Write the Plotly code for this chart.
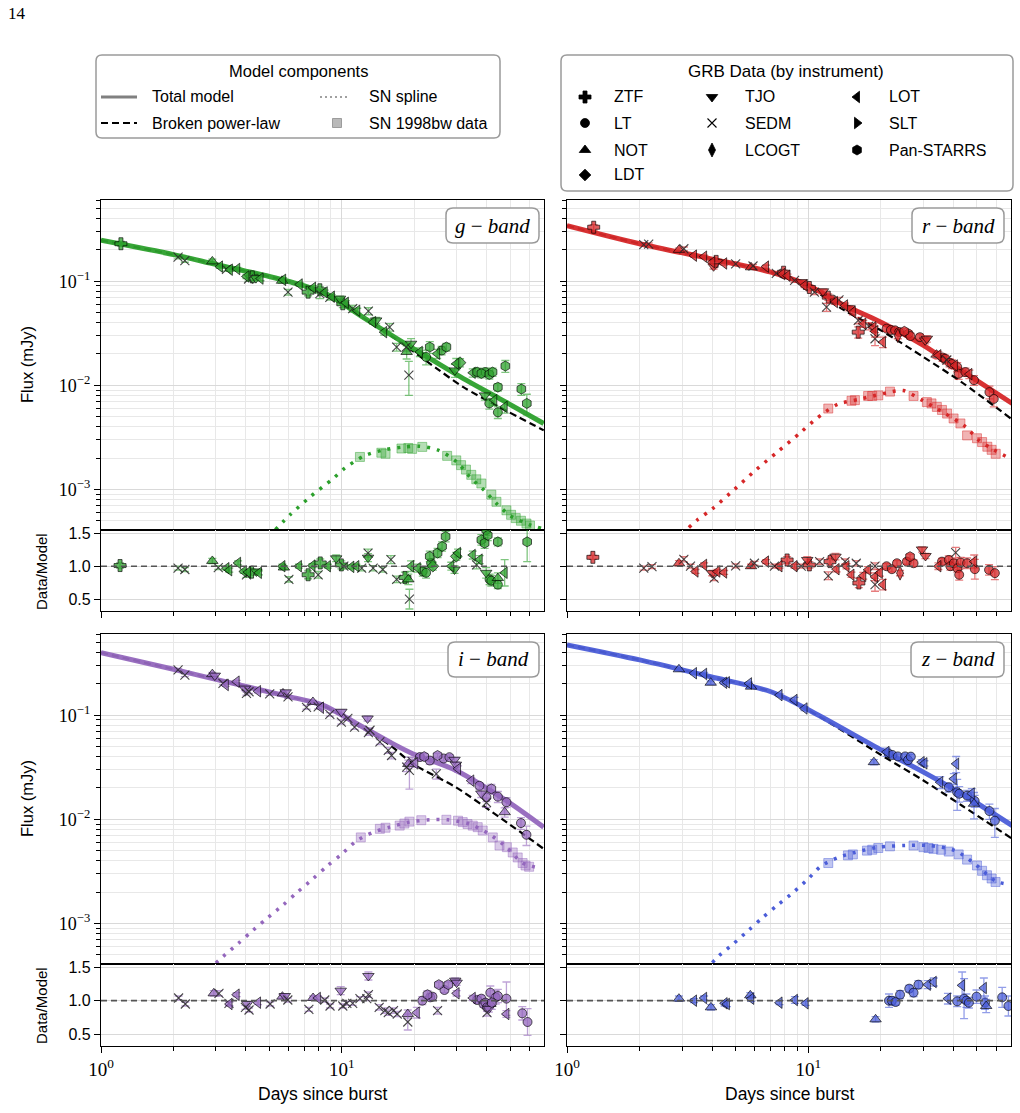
import plotly.graph_objects as go

W, H = 1020, 1113

# ------------------------------------------------------------------ data
# ---- g band
g_model_t = [1.0, 2.0, 3.0, 5.0, 7.0, 9.0, 12.0, 17.0, 25.0, 32.0, 45.0, 69.0]
g_total = [0.247, 0.18, 0.145, 0.111, 0.090, 0.0718, 0.0465, 0.028, 0.0163, 0.0116, 0.0075, 0.0043]
g_bpl = [0.247, 0.18, 0.145, 0.111, 0.090, 0.0712, 0.046, 0.0272, 0.0143, 0.0096, 0.0062, 0.0037]
g_spline_t = [5.3, 6.1, 7.4, 9.2, 10.3, 12.4, 15.0, 18.0, 21.0, 25.0, 30.0, 34.0, 39.0, 44.0, 50.0, 60.0, 68.0]
g_spline_f = [4.1e-4, 5.7e-4, 8.5e-4, 1.27e-3, 1.6e-3, 2.1e-3, 2.4e-3, 2.55e-3, 2.6e-3, 2.4e-3, 1.84e-3,
              1.32e-3, 9.8e-4, 7.3e-4, 5.6e-4, 4.6e-4, 4.2e-4]
g_sn_t = [11.9, 14.6, 15.2, 17.7, 18.9, 19.6, 21.6, 27.4, 29.9, 31.3, 32.8, 34.5, 36.2, 38.0, 41.8, 43.9,
          48.3, 50.5, 52.8, 55.5, 58.5, 60.5]
g_sn_f = [2.05e-3, 2.25e-3, 2.2e-3, 2.47e-3, 2.5e-3, 2.45e-3, 2.56e-3, 2.1e-3, 1.9e-3, 1.71e-3, 1.55e-3,
          1.38e-3, 1.25e-3, 1.14e-3, 8.9e-4, 7.6e-4, 6.3e-4, 5.7e-4, 5.3e-4, 5.0e-4, 4.7e-4, 4.5e-4]
g_flux_points = [
    ("ZTF", 1.21, 0.229, 0.012), ("SEDM", 2.09, 0.170, 0.006), ("SEDM", 2.23, 0.158, 0.006),
    ("NOT", 2.90, 0.155, 0.008), ("LOT", 3.12, 0.138, 0.005), ("SEDM", 3.32, 0.130, 0.005),
    ("LOT", 3.43, 0.129, 0.005), ("LOT", 3.68, 0.131, 0.005), ("LOT", 4.02, 0.111, 0.005),
    ("SEDM", 4.10, 0.105, 0.005), ("ZTF", 4.25, 0.110, 0.008), ("TJO", 4.40, 0.107, 0.005),
    ("LOT", 4.60, 0.106, 0.005), ("NOT", 5.65, 0.101, 0.005), ("LOT", 5.71, 0.103, 0.005),
    ("SEDM", 5.98, 0.0785, 0.005), ("LOT", 6.69, 0.093, 0.004), ("ZTF", 7.25, 0.0785, 0.006),
    ("LOT", 7.60, 0.0864, 0.004), ("ZTF", 8.11, 0.0827, 0.006), ("SEDM", 8.11, 0.0760, 0.008),
    ("LOT", 8.50, 0.078, 0.004), ("SEDM", 8.92, 0.070, 0.004), ("LOT", 9.10, 0.071, 0.003),
    ("TJO", 9.83, 0.068, 0.004), ("ZTF", 10.1, 0.0607, 0.005), ("LOT", 10.4, 0.062, 0.003),
    ("SEDM", 11.1, 0.0544, 0.004), ("LOT", 11.6, 0.052, 0.003), ("SEDM", 12.9, 0.0516, 0.004),
    ("LOT", 13.5, 0.0404, 0.002), ("TJO", 13.9, 0.042, 0.003), ("LOT", 15.0, 0.0324, 0.002),
    ("SEDM", 15.8, 0.0362, 0.003), ("SEDM", 16.9, 0.0233, 0.002), ("SEDM", 18.5, 0.0233, 0.002),
    ("NOT", 18.6, 0.0209, 0.003), ("SEDM", 19.0, 0.0125, 0.0045), ("TJO", 19.4, 0.0251, 0.003),
    ("LOT", 21.1, 0.0209, 0.002), ("LT", 22.4, 0.0187, 0.003), ("PS", 23.2, 0.0233, 0.003),
    ("LOT", 24.9, 0.0201, 0.002), ("LT", 26.0, 0.0216, 0.002), ("PS", 27.2, 0.0233, 0.002),
    ("TJO", 29.5, 0.0139, 0.002), ("LOT", 29.9, 0.0161, 0.002), ("LDT", 31.0, 0.0165, 0.0015),
    ("LOT", 35.0, 0.0132, 0.0012), ("PS", 36.5, 0.0134, 0.0012), ("PS", 38.0, 0.0130, 0.0012),
    ("LT", 39.5, 0.0134, 0.0012), ("PS", 41.0, 0.0127, 0.0012), ("PS", 42.3, 0.0134, 0.0012),
    ("TJO", 39.3, 0.0080, 0.0008), ("LT", 41.0, 0.0067, 0.0008), ("LOT", 43.0, 0.0072, 0.0008),
    ("PS", 44.5, 0.0096, 0.0008), ("LT", 44.5, 0.0055, 0.0007), ("LOT", 47.5, 0.0062, 0.0008),
    ("PS", 47.8, 0.0153, 0.002), ("PS", 55.7, 0.0092, 0.0012), ("PS", 58.7, 0.0067, 0.0015),
]
g_ratio_points = [
    ("ZTF", 1.20, 1.01, 0.04), ("SEDM", 2.09, 0.97, 0.03), ("SEDM", 2.23, 0.95, 0.03),
    ("NOT", 2.90, 1.08, 0.04), ("SEDM", 3.07, 0.98, 0.03), ("LOT", 3.32, 0.97, 0.03),
    ("LOT", 3.41, 0.94, 0.03), ("LOT", 3.71, 1.05, 0.03), ("LOT", 3.92, 0.92, 0.03),
    ("SEDM", 4.02, 0.87, 0.04), ("LOT", 4.08, 0.91, 0.03), ("ZTF", 4.22, 0.91, 0.05),
    ("TJO", 4.42, 0.92, 0.03), ("LOT", 4.53, 0.90, 0.03), ("LOT", 5.67, 1.0, 0.03),
    ("NOT", 5.75, 0.98, 0.03), ("SEDM", 6.03, 0.80, 0.04), ("LOT", 6.64, 1.0, 0.03),
    ("ZTF", 7.25, 0.87, 0.06), ("LOT", 7.56, 1.01, 0.03), ("SEDM", 7.98, 0.87, 0.05),
    ("ZTF", 8.14, 1.05, 0.06), ("LOT", 8.76, 1.0, 0.03), ("TJO", 9.48, 1.12, 0.05),
    ("ZTF", 9.96, 1.02, 0.06), ("SEDM", 10.2, 1.0, 0.04), ("LOT", 10.96, 0.99, 0.03),
    ("LOT", 11.5, 1.0, 0.03), ("SEDM", 12.1, 0.97, 0.04), ("SEDM", 12.86, 1.2, 0.06),
    ("TJO", 12.86, 1.13, 0.06), ("SEDM", 13.5, 0.97, 0.04), ("SEDM", 14.8, 0.95, 0.04),
    ("SEDM", 16.0, 1.1, 0.06), ("SEDM", 16.9, 0.8, 0.05), ("ZTF", 18.3, 0.83, 0.08),
    ("NOT", 18.9, 0.80, 0.08), ("SEDM", 19.1, 0.5, 0.15), ("LOT", 19.4, 1.0, 0.08),
    ("LOT", 20.7, 0.97, 0.06), ("LT", 21.7, 0.92, 0.07), ("LT", 22.4, 0.9, 0.08),
    ("PS", 23.2, 1.15, 0.08), ("LT", 23.5, 1.05, 0.06), ("LDT", 23.9, 1.0, 0.06),
    ("PS", 25.0, 1.2, 0.07), ("PS", 26.1, 1.3, 0.07), ("PS", 27.0, 1.45, 0.08),
    ("LOT", 28.5, 1.0, 0.06), ("TJO", 29.4, 0.95, 0.06), ("LDT", 29.9, 1.15, 0.06),
    ("LOT", 30.4, 1.2, 0.06), ("LOT", 35.0, 1.17, 0.06), ("SEDM", 36.3, 1.02, 0.06),
    ("LOT", 37.4, 1.1, 0.06), ("PS", 38.0, 1.4, 0.08), ("PS", 39.2, 1.35, 0.08),
    ("PS", 39.8, 1.55, 0.08), ("PS", 40.4, 1.47, 0.08), ("TJO", 39.8, 0.9, 0.08),
    ("LT", 41.1, 0.8, 0.08), ("LT", 41.8, 0.78, 0.08), ("PS", 44.5, 1.37, 0.06),
    ("LT", 44.5, 0.72, 0.06), ("NOT", 44.5, 0.82, 0.08), ("LOT", 47.5, 0.9, 0.2),
    ("PS", 58.9, 1.37, 0.3),
]

# ---- r band
r_model_t = [1.0, 2.0, 4.0, 7.0, 10.0, 14.0, 20.0, 30.0, 43.0, 70.0]
r_total = [0.342, 0.229, 0.163, 0.122, 0.091, 0.059, 0.0404, 0.0242, 0.0139, 0.0067]
r_bpl = [0.342, 0.229, 0.163, 0.122, 0.088, 0.053, 0.0337, 0.0187, 0.0108, 0.00469]
r_spline_t = [3.2, 3.47, 4.0, 4.94, 6.07, 7.46, 9.26, 10.7, 11.7, 13.3, 16.1, 17.7, 22.9, 24.8, 29.6, 36.9,
              44.8, 51.0, 57.7, 68.8]
r_spline_f = [4.3e-4, 5.1e-4, 6.5e-4, 1.0e-3, 1.54e-3, 2.3e-3, 3.5e-3, 4.7e-3, 5.5e-3, 6.6e-3, 7.3e-3,
              7.7e-3, 8.8e-3, 8.9e-3, 7.2e-3, 5.35e-3, 4.0e-3, 2.96e-3, 2.46e-3, 1.97e-3]
r_sn_t = [12.1, 15.1, 15.6, 17.7, 18.4, 19.5, 21.8, 27.3, 31.0, 32.4, 34.1, 35.8, 37.6, 40.0, 42.7, 45.5,
          50.0, 52.5, 55.2, 57.5, 59.8]
r_sn_f = [5.98e-3, 7.1e-3, 7.2e-3, 7.9e-3, 7.9e-3, 8.0e-3, 8.7e-3, 7.9e-3, 6.9e-3, 6.7e-3, 6.2e-3, 5.8e-3,
          5.35e-3, 4.8e-3, 4.3e-3, 3.3e-3, 3.1e-3, 2.85e-3, 2.57e-3, 2.4e-3, 2.2e-3]
r_flux_points = [
    ("ZTF", 1.29, 0.33, 0.02), ("SEDM", 2.08, 0.225, 0.006), ("SEDM", 2.18, 0.227, 0.006),
    ("NOT", 2.91, 0.200, 0.008), ("SEDM", 3.05, 0.205, 0.008), ("LOT", 3.36, 0.176, 0.006),
    ("LOT", 3.70, 0.172, 0.006), ("LOT", 4.0, 0.152, 0.006), ("TJO", 4.05, 0.139, 0.008),
    ("ZTF", 4.15, 0.155, 0.01), ("LOT", 4.48, 0.148, 0.005), ("SEDM", 5.0, 0.147, 0.005),
    ("NOT", 5.79, 0.136, 0.005), ("SEDM", 5.9, 0.140, 0.005), ("LOT", 6.68, 0.138, 0.005),
    ("SEDM", 7.37, 0.119, 0.005), ("LOT", 7.8, 0.117, 0.005), ("ZTF", 7.9, 0.122, 0.006),
    ("LOT", 8.2, 0.113, 0.004), ("SEDM", 8.77, 0.1016, 0.004), ("TJO", 9.4, 0.098, 0.004),
    ("LOT", 9.65, 0.091, 0.004), ("ZTF", 10.1, 0.087, 0.005), ("SEDM", 10.6, 0.0785, 0.004),
    ("TJO", 11.5, 0.080, 0.004), ("ZTF", 12.1, 0.0703, 0.005), ("SEDM", 11.9, 0.0563, 0.005),
    ("LOT", 12.9, 0.063, 0.003), ("SEDM", 13.4, 0.066, 0.004), ("LOT", 14.2, 0.0585, 0.003),
    ("TJO", 14.8, 0.055, 0.003), ("LOT", 15.3, 0.0505, 0.003), ("SEDM", 16.1, 0.042, 0.003),
    ("ZTF", 16.1, 0.0324, 0.004), ("LOT", 16.9, 0.039, 0.003), ("SEDM", 17.8, 0.037, 0.003),
    ("LOT", 18.6, 0.036, 0.003), ("SEDM", 18.9, 0.028, 0.004), ("LOT", 18.9, 0.033, 0.004),
    ("LOT", 20.4, 0.026, 0.003), ("LT", 21.1, 0.035, 0.002), ("LT", 22.0, 0.034, 0.002),
    ("LT", 22.9, 0.0337, 0.002), ("LCOGT", 23.5, 0.030, 0.002), ("LT", 23.8, 0.0325, 0.002),
    ("PS", 25.0, 0.033, 0.002), ("LT", 26.0, 0.0313, 0.002), ("LT", 26.5, 0.0297, 0.002),
    ("LT", 29.0, 0.029, 0.002), ("TJO", 30.5, 0.027, 0.002), ("TJO", 31.0, 0.028, 0.002),
    ("NOT", 34.0, 0.0197, 0.0015), ("LOT", 34.6, 0.0194, 0.0015), ("LT", 36.0, 0.0185, 0.0015),
    ("LT", 36.9, 0.018, 0.0015), ("SEDM", 37.5, 0.0175, 0.0015), ("LT", 38.5, 0.0165, 0.0015),
    ("LT", 39.4, 0.016, 0.0015), ("LOT", 40.5, 0.0155, 0.0012), ("LT", 41.4, 0.015, 0.0015),
    ("LT", 42.0, 0.0129, 0.0015), ("LT", 44.8, 0.0134, 0.0012), ("LOT", 46.5, 0.0128, 0.0012),
    ("LT", 48.6, 0.0112, 0.0012), ("LT", 56.3, 0.0086, 0.0012), ("LT", 58.7, 0.0074, 0.0012),
]
r_ratio_points = [
    ("ZTF", 1.28, 1.135, 0.03), ("SEDM", 2.08, 0.97, 0.03), ("SEDM", 2.25, 0.995, 0.03),
    ("NOT", 2.91, 1.045, 0.04), ("SEDM", 3.05, 1.105, 0.04), ("SEDM", 3.25, 1.0, 0.03),
    ("LOT", 3.41, 0.92, 0.03), ("LOT", 3.70, 1.02, 0.03), ("TJO", 4.0, 0.895, 0.04),
    ("SEDM", 4.07, 0.82, 0.04), ("LOT", 4.2, 0.92, 0.03), ("LOT", 4.48, 0.905, 0.03),
    ("SEDM", 5.0, 1.005, 0.03), ("NOT", 5.79, 1.0, 0.03), ("SEDM", 5.98, 1.045, 0.03),
    ("LOT", 6.68, 1.07, 0.03), ("SEDM", 7.24, 1.0, 0.03), ("LOT", 7.6, 1.0, 0.03),
    ("ZTF", 8.17, 1.095, 0.05), ("LOT", 8.77, 1.0, 0.03), ("SEDM", 9.35, 1.0, 0.03),
    ("TJO", 9.9, 1.095, 0.05), ("ZTF", 10.1, 1.02, 0.05), ("SEDM", 11.14, 1.07, 0.04),
    ("SEDM", 12.1, 0.855, 0.06), ("ZTF", 12.3, 1.07, 0.05), ("TJO", 12.96, 1.145, 0.05),
    ("LOT", 13.1, 0.955, 0.04), ("SEDM", 14.2, 1.07, 0.04), ("LOT", 14.4, 1.0, 0.04),
    ("LOT", 15.1, 0.87, 0.04), ("SEDM", 15.8, 1.045, 0.04), ("ZTF", 16.2, 0.745, 0.07),
    ("LOT", 16.9, 0.855, 0.05), ("LOT", 17.7, 0.945, 0.05), ("SEDM", 18.9, 1.0, 0.05),
    ("LOT", 18.9, 0.84, 0.06), ("SEDM", 18.9, 0.72, 0.1), ("LOT", 19.8, 0.9, 0.05),
    ("LOT", 20.4, 0.72, 0.08), ("LT", 21.1, 1.0, 0.04), ("LT", 22.2, 0.955, 0.04),
    ("LT", 23.3, 1.045, 0.04), ("LCOGT", 24.0, 0.895, 0.04), ("LT", 25.6, 1.07, 0.04),
    ("PS", 26.4, 1.145, 0.04), ("LT", 27.3, 1.045, 0.05), ("TJO", 29.6, 1.255, 0.04),
    ("TJO", 30.6, 1.155, 0.04), ("LOT", 34.6, 1.0, 0.05), ("LT", 35.8, 1.07, 0.05),
    ("LT", 38.2, 1.095, 0.06), ("LT", 38.8, 1.0, 0.06), ("LT", 40.1, 1.045, 0.06),
    ("SEDM", 40.8, 1.205, 0.08), ("LT", 41.5, 0.97, 0.06), ("LT", 42.2, 0.87, 0.08),
    ("LT", 42.8, 1.055, 0.08), ("LT", 45.5, 1.045, 0.08), ("LOT", 48.7, 1.07, 0.1),
    ("LT", 49.0, 0.955, 0.15), ("LT", 56.1, 0.945, 0.08), ("LT", 59.3, 0.895, 0.1),
]

# ---- i band
i_model_t = [1.0, 2.0, 3.0, 6.1, 8.35, 11.5, 15.8, 19.7, 29.8, 48.3, 69.0]
i_total = [0.399, 0.276, 0.221, 0.150, 0.125, 0.0832, 0.0553, 0.0427, 0.0295, 0.0151, 0.0084]
i_bpl = [0.399, 0.276, 0.221, 0.150, 0.124, 0.081, 0.052, 0.0342, 0.0203, 0.0094, 0.0052]
i_spline_t = [3.0, 3.21, 3.71, 4.28, 4.94, 5.7, 6.5, 7.56, 8.7, 9.96, 11.5, 13.5, 15.8, 19.1, 23.2, 27.6,
              34.0, 41.0, 48.3, 56.4, 66.3]
i_spline_f = [4.16e-4, 4.8e-4, 6.4e-4, 8.6e-4, 1.14e-3, 1.5e-3, 1.97e-3, 2.66e-3, 3.56e-3, 4.6e-3, 6.2e-3,
              7.5e-3, 8.4e-3, 9.4e-3, 9.9e-3, 9.9e-3, 9.0e-3, 7.2e-3, 5.4e-3, 3.8e-3, 3.4e-3]
i_sn_t = [12.0, 14.4, 15.2, 17.4, 18.2, 19.1, 21.4, 27.2, 30.4, 31.8, 33.3, 35.0, 36.7, 38.5, 42.4, 45.2,
          48.5, 51.3, 53.8, 56.4, 58.0, 60.0]
i_sn_f = [6.7e-3, 8.1e-3, 8.3e-3, 8.7e-3, 9.1e-3, 9.5e-3, 9.8e-3, 9.9e-3, 9.7e-3, 9.4e-3, 9.0e-3, 8.7e-3,
          8.4e-3, 7.8e-3, 6.7e-3, 5.6e-3, 5.4e-3, 4.8e-3, 4.3e-3, 3.8e-3, 3.6e-3, 3.5e-3]
i_flux_points = [
    ("SEDM", 2.09, 0.272, 0.008), ("SEDM", 2.23, 0.243, 0.008), ("NOT", 2.90, 0.248, 0.01),
    ("TJO", 2.97, 0.240, 0.01), ("SEDM", 3.21, 0.202, 0.006), ("LOT", 3.30, 0.195, 0.006),
    ("LOT", 3.66, 0.210, 0.006), ("TJO", 3.96, 0.180, 0.008), ("SEDM", 4.02, 0.162, 0.006),
    ("SEDM", 4.12, 0.168, 0.006), ("LOT", 4.49, 0.170, 0.006), ("SEDM", 5.02, 0.160, 0.005),
    ("NOT", 5.70, 0.162, 0.006), ("TJO", 5.85, 0.166, 0.006), ("SEDM", 5.98, 0.150, 0.005),
    ("SEDM", 7.14, 0.119, 0.005), ("NOT", 7.59, 0.134, 0.005), ("SEDM", 7.98, 0.120, 0.005),
    ("LOT", 8.2, 0.118, 0.004), ("SEDM", 8.92, 0.102, 0.004), ("TJO", 9.96, 0.108, 0.005),
    ("SEDM", 9.96, 0.086, 0.004), ("SEDM", 10.6, 0.093, 0.004), ("SEDM", 11.3, 0.077, 0.004),
    ("TJO", 12.8, 0.093, 0.005), ("SEDM", 13.1, 0.0717, 0.004), ("SEDM", 12.9, 0.068, 0.004),
    ("SEDM", 14.4, 0.0553, 0.003), ("SEDM", 15.6, 0.046, 0.003), ("SEDM", 16.1, 0.041, 0.003),
    ("SEDM", 18.6, 0.0317, 0.003), ("NOT", 18.9, 0.034, 0.003), ("SEDM", 19.1, 0.0295, 0.01),
    ("SEDM", 19.6, 0.036, 0.003), ("LOT", 20.2, 0.0345, 0.003), ("LT", 21.1, 0.0396, 0.003),
    ("PS", 22.0, 0.040, 0.003), ("LT", 23.2, 0.0367, 0.003), ("PS", 25.0, 0.041, 0.002),
    ("LT", 26.5, 0.0384, 0.002), ("LT", 28.0, 0.0395, 0.002), ("TJO", 29.4, 0.0373, 0.002),
    ("TJO", 29.8, 0.0335, 0.002), ("LOT", 30.4, 0.0306, 0.002), ("SEDM", 24.7, 0.0273, 0.003),
    ("LOT", 34.5, 0.0235, 0.0015), ("LT", 37.3, 0.021, 0.0015), ("TJO", 38.0, 0.0177, 0.0015),
    ("LT", 39.9, 0.0163, 0.0015), ("PS", 41.8, 0.0196, 0.002), ("SEDM", 39.9, 0.0145, 0.0015),
    ("LT", 44.5, 0.0165, 0.002), ("LT", 48.3, 0.0146, 0.0015), ("NOT", 47.5, 0.0117, 0.0012),
    ("LT", 55.5, 0.0092, 0.0012), ("LT", 58.5, 0.0071, 0.0015),
]
i_ratio_points = [
    ("SEDM", 2.1, 1.04, 0.03), ("SEDM", 2.24, 0.95, 0.03), ("NOT", 2.94, 1.11, 0.04),
    ("SEDM", 3.09, 1.11, 0.04), ("SEDM", 3.40, 0.96, 0.03), ("LOT", 3.42, 0.95, 0.03),
    ("LOT", 3.66, 1.09, 0.03), ("SEDM", 3.98, 0.9, 0.03), ("TJO", 4.05, 0.95, 0.04),
    ("SEDM", 4.12, 0.86, 0.03), ("LOT", 4.49, 0.97, 0.03), ("SEDM", 5.04, 0.95, 0.03),
    ("NOT", 5.67, 1.06, 0.03), ("TJO", 5.8, 1.07, 0.03), ("SEDM", 5.97, 1.01, 0.03),
    ("SEDM", 7.3, 0.87, 0.03), ("NOT", 7.6, 1.04, 0.03), ("LOT", 7.96, 1.04, 0.03),
    ("SEDM", 8.5, 1.01, 0.03), ("SEDM", 8.94, 0.92, 0.03), ("TJO", 9.9, 1.15, 0.06),
    ("SEDM", 10.1, 0.92, 0.03), ("SEDM", 10.5, 0.96, 0.03), ("SEDM", 11.1, 0.96, 0.03),
    ("SEDM", 11.9, 1.03, 0.03), ("TJO", 12.9, 1.37, 0.06), ("SEDM", 12.9, 1.09, 0.04),
    ("SEDM", 12.7, 1.03, 0.03), ("SEDM", 14.3, 0.9, 0.04), ("SEDM", 15.1, 0.85, 0.04),
    ("SEDM", 15.6, 0.82, 0.04), ("SEDM", 16.4, 0.85, 0.04), ("SEDM", 17.0, 0.8, 0.04),
    ("NOT", 18.8, 0.8, 0.06), ("SEDM", 18.8, 0.68, 0.12), ("LOT", 20.5, 0.82, 0.08),
    ("LT", 21.6, 1.0, 0.06), ("PS", 22.7, 1.09, 0.06), ("LT", 23.3, 1.05, 0.05),
    ("LT", 23.8, 1.06, 0.05), ("SEDM", 25.0, 0.85, 0.05), ("PS", 25.3, 1.24, 0.04),
    ("LT", 26.7, 1.16, 0.04), ("PS", 27.7, 1.24, 0.04), ("TJO", 29.6, 1.3, 0.04),
    ("TJO", 30.0, 1.27, 0.04), ("LOT", 30.0, 1.11, 0.04), ("LOT", 35.0, 1.04, 0.04),
    ("LT", 36.5, 1.01, 0.05), ("LT", 38.0, 1.03, 0.05), ("LT", 38.8, 0.95, 0.05),
    ("LT", 39.5, 0.97, 0.05), ("LT", 40.1, 0.9, 0.06), ("TJO", 40.8, 0.88, 0.05),
    ("SEDM", 40.1, 0.82, 0.05), ("LT", 41.4, 1.12, 0.1), ("PS", 42.0, 0.97, 0.1),
    ("NOT", 41.4, 0.95, 0.06), ("LT", 43.6, 1.05, 0.1), ("LT", 44.5, 1.07, 0.1),
    ("LT", 48.3, 1.03, 0.25), ("LOT", 48.3, 0.8, 0.05), ("LT", 56.2, 0.81, 0.1),
    ("LT", 59.1, 0.68, 0.2),
]

# ---- z band
z_model_t = [1.0, 2.0, 3.94, 7.0, 10.0, 20.2, 30.0, 43.4, 70.0]
z_total = [0.474, 0.34, 0.234, 0.168, 0.113, 0.046, 0.0284, 0.0175, 0.0087]
z_bpl = [0.474, 0.34, 0.234, 0.168, 0.112, 0.041, 0.0236, 0.0135, 0.0065]
z_spline_t = [4.0, 4.27, 4.9, 5.66, 6.47, 7.46, 8.63, 9.96, 11.3, 13.3, 15.6, 19.5, 25.3, 31.5, 40.6, 49.2,
              59.7, 65.6]
z_spline_f = [4.2e-4, 4.9e-4, 6.4e-4, 8.6e-4, 1.14e-3, 1.5e-3, 1.97e-3, 2.66e-3, 3.56e-3, 4.3e-3, 4.8e-3,
              5.4e-3, 5.6e-3, 5.6e-3, 5.0e-3, 3.7e-3, 2.55e-3, 2.4e-3]
z_sn_t = [12.1, 14.6, 15.3, 17.5, 18.4, 19.5, 21.8, 27.3, 30.0, 31.5, 33.0, 35.5, 38.2, 42.0, 45.5, 50.0,
          52.5, 55.0, 57.5, 59.7]
z_sn_f = [3.8e-3, 4.5e-3, 4.6e-3, 5.0e-3, 5.1e-3, 5.3e-3, 5.5e-3, 5.6e-3, 5.4e-3, 5.3e-3, 5.2e-3, 5.1e-3,
          4.9e-3, 4.6e-3, 4.1e-3, 3.6e-3, 3.2e-3, 2.9e-3, 2.7e-3, 2.5e-3]
z_flux_points = [
    ("NOT", 2.91, 0.276, 0.01), ("LOT", 3.36, 0.253, 0.008), ("LOT", 3.70, 0.249, 0.008),
    ("NOT", 3.94, 0.205, 0.008), ("LOT", 4.48, 0.205, 0.006), ("LOT", 4.60, 0.207, 0.006),
    ("LOT", 5.68, 0.202, 0.006), ("NOT", 5.79, 0.188, 0.006), ("LOT", 7.6, 0.156, 0.005),
    ("LOT", 8.77, 0.14, 0.008), ("LOT", 9.65, 0.116, 0.005), ("NOT", 18.7, 0.0354, 0.002),
    ("LOT", 21.1, 0.0443, 0.004), ("LT", 21.5, 0.043, 0.002), ("LT", 22.3, 0.0415, 0.002),
    ("LT", 23.5, 0.0402, 0.002), ("LT", 25.2, 0.0402, 0.002), ("LT", 25.9, 0.037, 0.002),
    ("LT", 26.6, 0.040, 0.002), ("LOT", 29.5, 0.0354, 0.002), ("LOT", 30.3, 0.0345, 0.002),
    ("LOT", 35.2, 0.0227, 0.003), ("LT", 38.2, 0.0203, 0.002), ("LOT", 40.1, 0.0245, 0.003),
    ("LOT", 41.0, 0.0341, 0.006), ("LT", 41.4, 0.0182, 0.006), ("LT", 42.2, 0.0176, 0.003),
    ("LT", 45.5, 0.0169, 0.002), ("LOT", 47.6, 0.0177, 0.002), ("NOT", 48.6, 0.0141, 0.004),
    ("LT", 48.9, 0.0150, 0.002), ("LT", 56.3, 0.012, 0.002), ("LT", 59.3, 0.0097, 0.003),
]
z_ratio_points = [
    ("NOT", 2.91, 1.03, 0.04), ("LOT", 3.36, 1.0, 0.03), ("LOT", 3.7, 1.04, 0.03),
    ("NOT", 3.95, 0.9, 0.04), ("LOT", 4.5, 0.96, 0.04), ("LOT", 4.6, 0.95, 0.04),
    ("NOT", 5.75, 1.08, 0.04), ("LOT", 5.8, 1.03, 0.04), ("LOT", 7.6, 0.97, 0.03),
    ("LOT", 8.8, 1.01, 0.05), ("LOT", 9.75, 0.96, 0.03), ("NOT", 19.0, 0.72, 0.04),
    ("LT", 21.6, 1.0, 0.1), ("LT", 22.2, 1.0, 0.06), ("LT", 23.0, 0.98, 0.05),
    ("LT", 24.0, 1.09, 0.06), ("LT", 26.2, 1.18, 0.05), ("LT", 27.3, 1.12, 0.06),
    ("LT", 28.6, 1.24, 0.06), ("LOT", 31.3, 1.24, 0.06), ("LOT", 33.1, 1.28, 0.06),
    ("LOT", 37.9, 1.03, 0.08), ("LT", 41.4, 0.99, 0.08), ("LOT", 43.4, 1.23, 0.2),
    ("LT", 44.2, 1.03, 0.3), ("LT", 45.2, 1.0, 0.1), ("LT", 46.3, 0.97, 0.08),
    ("LT", 49.8, 1.06, 0.1), ("LOT", 53.4, 1.19, 0.15), ("LT", 54.0, 0.97, 0.1),
    ("NOT", 54.6, 0.92, 0.1), ("LT", 63.6, 1.05, 0.15), ("LT", 67.5, 0.92, 0.15),
]

band_names = ["g", "r", "i", "z"]
instrument_order = ["ZTF", "LT", "NOT", "LDT", "TJO", "SEDM", "LCOGT", "LOT", "SLT", "PS"]
instrument_labels = {"ZTF": "ZTF", "LT": "LT", "NOT": "NOT", "LDT": "LDT", "TJO": "TJO", "SEDM": "SEDM",
                     "LCOGT": "LCOGT", "LOT": "LOT", "SLT": "SLT", "PS": "Pan-STARRS"}

# ------------------------------------------------------------------ styles
SYMBOLS = {"ZTF": "cross", "LT": "circle", "NOT": "triangle-up", "LDT": "diamond",
           "TJO": "triangle-down", "SEDM": "x-thin-open", "LCOGT": "diamond-tall",
           "LOT": "triangle-left", "SLT": "triangle-right", "PS": "hexagon"}
SIZES = {"ZTF": 10, "LT": 9, "NOT": 10, "LDT": 9, "TJO": 10, "SEDM": 9, "LCOGT": 10,
         "LOT": 10, "SLT": 10, "PS": 10}
COLORS = {"g": "#2ca02c", "r": "#d62728", "i": "#9467bd", "z": "#4b5dd8"}
GRID = "#d9d9d9"
GRID_MINOR = "#e8e8e8"
SANS = "Liberation Sans"
SERIF = "Liberation Serif"


def rgba(hexc, a):
    h = hexc.lstrip("#")
    return f"rgba({int(h[0:2], 16)},{int(h[2:4], 16)},{int(h[4:6], 16)},{a})"


def px(x):
    return x / W


def py(y):
    return 1 - y / H


# panel geometry (pixels)
LEFT = [px(101), px(544)]
RIGHT = [px(567), px(1011)]
TOP_MAIN = [py(530), py(200)]
TOP_RAT = [py(611), py(530)]
BOT_MAIN = [py(964), py(634)]
BOT_RAT = [py(1046), py(964)]

panels = {
    "g": dict(xd=LEFT, main=TOP_MAIN, rat=TOP_RAT, n=1, left=True, bottom=False),
    "r": dict(xd=RIGHT, main=TOP_MAIN, rat=TOP_RAT, n=3, left=False, bottom=False),
    "i": dict(xd=LEFT, main=BOT_MAIN, rat=BOT_RAT, n=5, left=True, bottom=True),
    "z": dict(xd=RIGHT, main=BOT_MAIN, rat=BOT_RAT, n=7, left=False, bottom=True),
}

band_data = {
    "g": (g_model_t, g_total, g_bpl, g_spline_t, g_spline_f, g_sn_t, g_sn_f, g_flux_points, g_ratio_points),
    "r": (r_model_t, r_total, r_bpl, r_spline_t, r_spline_f, r_sn_t, r_sn_f, r_flux_points, r_ratio_points),
    "i": (i_model_t, i_total, i_bpl, i_spline_t, i_spline_f, i_sn_t, i_sn_f, i_flux_points, i_ratio_points),
    "z": (z_model_t, z_total, z_bpl, z_spline_t, z_spline_f, z_sn_t, z_sn_f, z_flux_points, z_ratio_points),
}

MINOR_X = [2, 3, 4, 5, 6, 7, 8, 9, 20, 30, 40, 50, 60]
MINOR_Y = [k * 10.0 ** d for d in (-4, -3, -2, -1) for k in range(2, 10)]


def axid(n):
    return "" if n == 1 else str(n)


fig = go.Figure()
layout = dict(width=W, height=H, margin=dict(l=0, r=0, t=0, b=0), paper_bgcolor="white",
              plot_bgcolor="rgba(0,0,0,0)", showlegend=False, shapes=[], annotations=[])


def marker_style(inst, color, legend=False):
    if inst == "SEDM":
        return dict(symbol=SYMBOLS[inst], size=SIZES[inst],
                    color="black" if legend else "rgba(40,40,40,0.85)", line=dict(width=1.1))
    return dict(symbol=SYMBOLS[inst], size=SIZES[inst], color="black" if legend else rgba(color, 0.75),
                line=dict(color="black" if legend else "rgba(0,0,0,0.8)", width=0.8))


def add_points(points, color, xa, ya):
    for inst in instrument_order:
        sel = [p for p in points if p[0] == inst]
        if not sel:
            continue
        fig.add_trace(go.Scatter(
            x=[p[1] for p in sel], y=[p[2] for p in sel], mode="markers",
            marker=marker_style(inst, color),
            error_y=dict(type="data", array=[p[3] for p in sel], color=rgba(color, 0.6),
                         thickness=1.3, width=4),
            xaxis=xa, yaxis=ya, hoverinfo="skip"))


for b in band_names:
    P = panels[b]
    c = COLORS[b]
    mt, tot, bpl, st, sf, snt, snf, fpts, rpts = band_data[b]
    nm, nr = P["n"], P["n"] + 1
    xa_m, ya_m = "x" + axid(nm), "y" + axid(nm)
    xa_r, ya_r = "x" + axid(nr), "y" + axid(nr)

    # SN 1998bw data and spline
    fig.add_trace(go.Scatter(x=snt, y=snf, mode="markers",
                             marker=dict(symbol="square", size=9, color=rgba(c, 0.35),
                                         line=dict(color=rgba(c, 0.45), width=1)),
                             xaxis=xa_m, yaxis=ya_m, hoverinfo="skip"))
    fig.add_trace(go.Scatter(x=st, y=sf, mode="lines",
                             line=dict(color=c, width=3.5, dash="3px,7px", shape="spline", smoothing=0.8),
                             xaxis=xa_m, yaxis=ya_m, hoverinfo="skip"))
    # broken power law + total
    fig.add_trace(go.Scatter(x=mt, y=bpl, mode="lines",
                             line=dict(color="black", width=2.2, dash="7px,4px", shape="spline", smoothing=0.8),
                             xaxis=xa_m, yaxis=ya_m, hoverinfo="skip"))
    fig.add_trace(go.Scatter(x=mt, y=tot, mode="lines",
                             line=dict(color=rgba(c, 0.95), width=5, shape="spline", smoothing=0.8),
                             xaxis=xa_m, yaxis=ya_m, hoverinfo="skip"))
    add_points(fpts, c, xa_m, ya_m)
    add_points(rpts, c, xa_r, ya_r)

    # ---- axes
    common = dict(showline=True, mirror=True, linecolor="black", linewidth=1.3, zeroline=False,
                  showgrid=True, gridcolor=GRID, gridwidth=1, automargin=False)
    layout["xaxis" + axid(nm)] = dict(
        common, type="log", range=[0, 1.84], domain=P["xd"], anchor=ya_m,
        tickmode="array", tickvals=[1, 10], ticks="", showticklabels=False,
        minor=dict(tickmode="array", tickvals=MINOR_X, ticks="", showgrid=True, gridcolor=GRID_MINOR))
    layout["xaxis" + axid(nr)] = dict(
        common, type="log", range=[0, 1.84], domain=P["xd"], anchor=ya_r,
        tickmode="array", tickvals=[1, 10], ticktext=["10<sup>0</sup>", "10<sup>1</sup>"],
        ticks="outside", ticklen=6, tickwidth=1.2, tickcolor="black",
        showticklabels=P["bottom"], tickfont=dict(family=SERIF, size=19, color="black"),
        minor=dict(tickmode="array", tickvals=MINOR_X, ticks="outside", ticklen=3.5, tickwidth=1,
                   tickcolor="black", showgrid=True, gridcolor=GRID_MINOR))
    layout["yaxis" + axid(nm)] = dict(
        common, type="log", range=[-3.39, -0.22], domain=P["main"], anchor=xa_m,
        tickmode="array", tickvals=[1e-3, 1e-2, 1e-1],
        ticktext=["10<sup>\u22123</sup>", "10<sup>\u22122</sup>", "10<sup>\u22121</sup>"],
        ticks="outside", ticklen=6, tickwidth=1.2, tickcolor="black",
        showticklabels=P["left"], tickfont=dict(family=SERIF, size=18, color="black"),
        minor=dict(tickmode="array", tickvals=MINOR_Y, ticks="outside", ticklen=3.5, tickwidth=1,
                   tickcolor="black", showgrid=True, gridcolor=GRID_MINOR))
    layout["yaxis" + axid(nr)] = dict(
        common, range=[0.32, 1.55], domain=P["rat"], anchor=xa_r,
        tickmode="array", tickvals=[0.5, 1.0, 1.5], ticktext=["0.5", "1.0", "1.5"],
        ticks="outside", ticklen=6, tickwidth=1.2, tickcolor="black",
        showticklabels=P["left"], tickfont=dict(family=SANS, size=16, color="black"))

    layout["shapes"].append(dict(type="line", xref=xa_r + " domain", x0=0, x1=1, yref=ya_r, y0=1, y1=1,
                                 line=dict(color="#555555", width=1.6, dash="6px,4px"), layer="above"))

# overlay axis in pixel units for legend glyphs
layout["xaxis9"] = dict(domain=[0, 1], range=[0, W], visible=False, anchor="y9", fixedrange=True)
layout["yaxis9"] = dict(domain=[0, 1], range=[H, 0], visible=False, anchor="x9", fixedrange=True)


def rrect(x0, y0, x1, y1, r):
    def P(x, y):
        return f"{px(x):.5f},{py(y):.5f}"
    return (f"M{P(x0 + r, y0)} L{P(x1 - r, y0)} Q{P(x1, y0)} {P(x1, y0 + r)} "
            f"L{P(x1, y1 - r)} Q{P(x1, y1)} {P(x1 - r, y1)} L{P(x0 + r, y1)} "
            f"Q{P(x0, y1)} {P(x0, y1 - r)} L{P(x0, y0 + r)} Q{P(x0, y0)} {P(x0 + r, y0)} Z")


def text(x, y, s, size=16, family=SANS, xanchor="left", angle=0):
    layout["annotations"].append(dict(x=px(x), y=py(y), xref="paper", yref="paper", text=s,
                                      showarrow=False, xanchor=xanchor, yanchor="middle",
                                      textangle=angle, font=dict(family=family, size=size, color="black")))


# legend boxes
for (x0, y0, x1, y1) in [(96, 55, 500, 138), (561, 55, 1013, 191)]:
    layout["shapes"].append(dict(type="path", path=rrect(x0, y0, x1, y1, 6), xref="paper", yref="paper",
                                 line=dict(color="#9a9a9a", width=1.5), fillcolor="rgba(0,0,0,0)",
                                 layer="below"))

# model components legend
text(298, 71, "Model components", 16.5, xanchor="center")
fig.add_trace(go.Scatter(x=[101, 137], y=[97, 97], mode="lines", line=dict(color="#808080", width=3),
                         xaxis="x9", yaxis="y9", hoverinfo="skip"))
fig.add_trace(go.Scatter(x=[101, 137], y=[123, 123], mode="lines",
                         line=dict(color="black", width=2.2, dash="7px,4px"),
                         xaxis="x9", yaxis="y9", hoverinfo="skip"))
fig.add_trace(go.Scatter(x=[320, 348], y=[97, 97], mode="lines",
                         line=dict(color="#a0a0a0", width=2, dash="2px,3px"),
                         xaxis="x9", yaxis="y9", hoverinfo="skip"))
fig.add_trace(go.Scatter(x=[337], y=[123], mode="markers",
                         marker=dict(symbol="square", size=9, color="rgba(128,128,128,0.55)",
                                     line=dict(color="rgba(128,128,128,0.7)", width=1)),
                         xaxis="x9", yaxis="y9", hoverinfo="skip"))
text(150, 97, "Total model")
text(150, 123, "Broken power-law")
text(367, 97, "SN spline")
text(367, 123, "SN 1998bw data")

# GRB data legend
text(786, 71, "GRB Data (by instrument)", 17, xanchor="center")
legend_cols = [(585, 612, ["ZTF", "LT", "NOT", "LDT"]),
               (712, 743, ["TJO", "SEDM", "LCOGT"]),
               (857, 887, ["LOT", "SLT", "PS"])]
row_y = [97, 123, 150, 175]
for mx, tx, insts in legend_cols:
    for k, inst in enumerate(insts):
        fig.add_trace(go.Scatter(x=[mx], y=[row_y[k]], mode="markers", marker=marker_style(inst, "#000000", True),
                                 xaxis="x9", yaxis="y9", hoverinfo="skip"))
        text(tx, row_y[k], instrument_labels[inst])

# band label boxes
band_boxes = {"g": (446, 208, 539, 243), "r": (912, 208, 1004, 243),
              "i": (448, 642, 539, 677), "z": (911, 642, 1004, 677)}
for b, (x0, y0, x1, y1) in band_boxes.items():
    layout["shapes"].append(dict(type="path", path=rrect(x0, y0, x1, y1, 7), xref="paper", yref="paper",
                                 line=dict(color="#9a9a9a", width=1.5), fillcolor="white", layer="above"))
    text((x0 + x1) / 2, (y0 + y1) / 2, f"<i>{b}</i> \u2212 <i>band</i>", 21, SERIF, xanchor="center")

# axis titles and page number
text(6, 14, "14", 17, SERIF)
text(27, 365, "Flux (mJy)", 16.5, xanchor="center", angle=-90)
text(27, 799, "Flux (mJy)", 16.5, xanchor="center", angle=-90)
text(41, 572, "Data/Model", 15, xanchor="center", angle=-90)
text(41, 1006, "Data/Model", 15, xanchor="center", angle=-90)
text(322, 1094, "Days since burst", 17.5, xanchor="center")
text(789, 1094, "Days since burst", 17.5, xanchor="center")

fig.update_layout(**layout)
fig.write_html("out.html")
